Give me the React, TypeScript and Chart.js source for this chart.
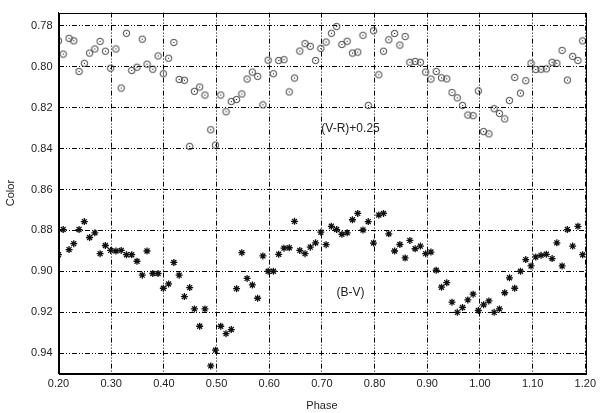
import React, { useEffect, useRef } from "react";
import { Chart, registerables } from "chart.js";

Chart.register(...registerables);

const phase = [
  0.200, 0.209, 0.220, 0.229, 0.239, 0.249, 0.259, 0.269, 0.279, 0.289,
  0.299, 0.309, 0.319, 0.329, 0.339, 0.349, 0.359, 0.368, 0.379, 0.389,
  0.399, 0.409, 0.419, 0.429, 0.439, 0.449, 0.458, 0.468, 0.478, 0.489,
  0.498, 0.508, 0.518, 0.528, 0.538, 0.548, 0.558, 0.568, 0.578, 0.588,
  0.598, 0.608, 0.618, 0.628, 0.638, 0.648, 0.658, 0.668, 0.678, 0.688,
  0.698, 0.708, 0.718, 0.728, 0.738, 0.748, 0.758, 0.768, 0.778, 0.788,
  0.798, 0.808, 0.817, 0.827, 0.838, 0.848, 0.858, 0.867, 0.877, 0.887,
  0.897, 0.907, 0.917, 0.927, 0.937, 0.947, 0.957, 0.967, 0.977, 0.987,
  0.997, 1.007, 1.017, 1.027, 1.037, 1.047, 1.056, 1.066, 1.077, 1.087,
  1.097, 1.106, 1.116, 1.126, 1.137, 1.146, 1.156, 1.166, 1.176, 1.186,
  1.195,
];

const vrPlus025 = [
  0.7873, 0.7938, 0.7861, 0.7873, 0.8023, 0.7983, 0.7933, 0.7913, 0.7876, 0.7924,
  0.8007, 0.7913, 0.8104, 0.7836, 0.8018, 0.8002, 0.7865, 0.7987, 0.8012, 0.7947,
  0.8034, 0.7958, 0.7881, 0.8062, 0.8066, 0.8389, 0.8120, 0.8099, 0.8138, 0.8308,
  0.8383, 0.8138, 0.8220, 0.8170, 0.8160, 0.8133, 0.8060, 0.8026, 0.8047, 0.8186,
  0.7968, 0.8034, 0.7969, 0.7965, 0.8123, 0.8055, 0.7923, 0.7887, 0.7900, 0.7969,
  0.7910, 0.7879, 0.7836, 0.7803, 0.7891, 0.7875, 0.7933, 0.7928, 0.7846, 0.8189,
  0.7824, 0.8039, 0.7924, 0.7868, 0.7837, 0.7894, 0.7852, 0.7978, 0.7974, 0.7978,
  0.8026, 0.8060, 0.8023, 0.8054, 0.8059, 0.8126, 0.8152, 0.8189, 0.8236, 0.8239,
  0.8118, 0.8317, 0.8328, 0.8205, 0.8228, 0.8255, 0.8165, 0.8052, 0.8129, 0.8068,
  0.7983, 0.8013, 0.8012, 0.8010, 0.7978, 0.7983, 0.7920, 0.8065, 0.7949, 0.7969,
  0.7873,
];

const bv = [
  0.8919, 0.8796, 0.8894, 0.8865, 0.8796, 0.8757, 0.8835, 0.8812, 0.8914, 0.8874,
  0.8898, 0.8901, 0.8898, 0.8919, 0.8919, 0.8951, 0.9019, 0.8901, 0.9011, 0.9011,
  0.9083, 0.9062, 0.8957, 0.9019, 0.9124, 0.9080, 0.9184, 0.9269, 0.9184, 0.9463,
  0.9386, 0.9269, 0.9305, 0.9285, 0.9085, 0.8909, 0.9035, 0.9067, 0.9132, 0.8925,
  0.9000, 0.9000, 0.8917, 0.8887, 0.8885, 0.8756, 0.8898, 0.8914, 0.8882, 0.8861,
  0.8809, 0.8870, 0.8780, 0.8796, 0.8819, 0.8812, 0.8748, 0.8717, 0.8798, 0.8757,
  0.8862, 0.8725, 0.8717, 0.8817, 0.8901, 0.8869, 0.8935, 0.8849, 0.8890, 0.8877,
  0.8914, 0.8906, 0.8995, 0.9078, 0.9056, 0.9151, 0.9201, 0.9177, 0.9140, 0.9112,
  0.9192, 0.9164, 0.9145, 0.9201, 0.9184, 0.9105, 0.9032, 0.9083, 0.9000, 0.8943,
  0.8974, 0.8930, 0.8922, 0.8917, 0.8938, 0.8861, 0.8974, 0.8796, 0.8877, 0.8780,
  0.8919,
];

const xTicks = [0.2, 0.3, 0.4, 0.5, 0.6, 0.7, 0.8, 0.9, 1.0, 1.1, 1.2];
const yTicks = [0.78, 0.8, 0.82, 0.84, 0.86, 0.88, 0.9, 0.92, 0.94];

const labels = [
  { text: "(V-R)+0.25", x: 0.699, y: 0.8301 },
  { text: "(B-V)", x: 0.7276, y: 0.9103 },
];

const FONT = "'Liberation Sans', Arial, sans-serif";

function makeCircleMarker(): HTMLCanvasElement {
  const c = document.createElement("canvas");
  c.width = 9;
  c.height = 9;
  const g = c.getContext("2d")!;
  g.strokeStyle = "#333";
  g.lineWidth = 1;
  g.beginPath();
  g.arc(4.5, 4.5, 3.2, 0, Math.PI * 2);
  g.stroke();
  g.fillStyle = "#000";
  g.fillRect(4, 4, 1, 1);
  return c;
}

const framePlugin = {
  id: "frame",
  afterDraw(chart: any) {
    const { ctx, chartArea } = chart;
    ctx.save();
    ctx.strokeStyle = "#000";
    ctx.lineWidth = 1;
    ctx.strokeRect(
      Math.round(chartArea.left) + 0.5,
      Math.round(chartArea.top) + 0.5,
      Math.round(chartArea.right - chartArea.left),
      Math.round(chartArea.bottom - chartArea.top)
    );
    const xs = chart.scales.x;
    const ys = chart.scales.y;
    ctx.fillStyle = "#222";
    ctx.font = `12px ${FONT}`;
    ctx.textAlign = "left";
    ctx.textBaseline = "middle";
    labels.forEach((l) => {
      ctx.fillText(l.text, xs.getPixelForValue(l.x), ys.getPixelForValue(l.y));
    });
    ctx.restore();
  },
};

export default function App() {
  const ref = useRef<HTMLCanvasElement | null>(null);

  useEffect(() => {
    const canvas = ref.current;
    if (!canvas) return;
    const circle = makeCircleMarker();
    const dash = [5, 2, 1, 2, 1, 2];
    const chart = new Chart(canvas, {
      type: "scatter",
      data: {
        datasets: [
          {
            label: "(V-R)+0.25",
            data: phase.map((p, i) => ({ x: p, y: vrPlus025[i] })),
            pointStyle: circle as any,
            pointRadius: 4.5,
          },
          {
            label: "(B-V)",
            data: phase.map((p, i) => ({ x: p, y: bv[i] })),
            pointStyle: "star",
            pointRadius: 3.5,
            borderColor: "#111",
            backgroundColor: "#111",
            borderWidth: 1.3,
          },
        ],
      },
      options: {
        animation: false,
        responsive: false,
        maintainAspectRatio: false,
        layout: { padding: { top: 10, right: 14, left: 0, bottom: 0 } },
        plugins: {
          legend: { display: false },
          tooltip: { enabled: false },
        },
        scales: {
          x: {
            type: "linear",
            min: 0.2,
            max: 1.2,
            afterBuildTicks: (axis: any) => {
              axis.ticks = xTicks.map((v) => ({ value: v }));
            },
            afterFit: (axis: any) => {
              axis.height = 39.5;
            },
            ticks: {
              padding: 4,
              color: "#222",
              font: { family: FONT, size: 11 },
              maxRotation: 0,
              callback: (v: any) => Number(v).toFixed(2),
            },
            grid: {
              color: "#000",
              lineWidth: 1,
              drawTicks: false,
            },
            border: { display: true, color: "#000", dash: dash },
            title: {
              display: true,
              text: "Phase",
              color: "#222",
              font: { family: FONT, size: 11 },
              padding: { top: 2, bottom: 0 },
            },
          },
          y: {
            type: "linear",
            reverse: true,
            min: 0.7735,
            max: 0.95,
            afterBuildTicks: (axis: any) => {
              axis.ticks = yTicks.map((v) => ({ value: v }));
            },
            afterFit: (axis: any) => {
              axis.width = 58.5;
            },
            ticks: {
              padding: 6,
              color: "#222",
              font: { family: FONT, size: 11 },
              callback: (v: any) => Number(v).toFixed(2),
            },
            grid: {
              color: "#000",
              lineWidth: 1,
              drawTicks: false,
            },
            border: { display: true, color: "#000", dash: dash },
            title: {
              display: true,
              text: "Color",
              color: "#222",
              font: { family: FONT, size: 11 },
              padding: { top: 4, bottom: 2 },
            },
          },
        },
      },
      plugins: [framePlugin],
    } as any);
    return () => chart.destroy();
  }, []);

  return (
    <div style={{ position: "fixed", left: 0, top: 0, width: 600, height: 413, background: "#fff" }}>
      <canvas ref={ref} width={600} height={413} style={{ width: 600, height: 413 }} />
    </div>
  );
}
